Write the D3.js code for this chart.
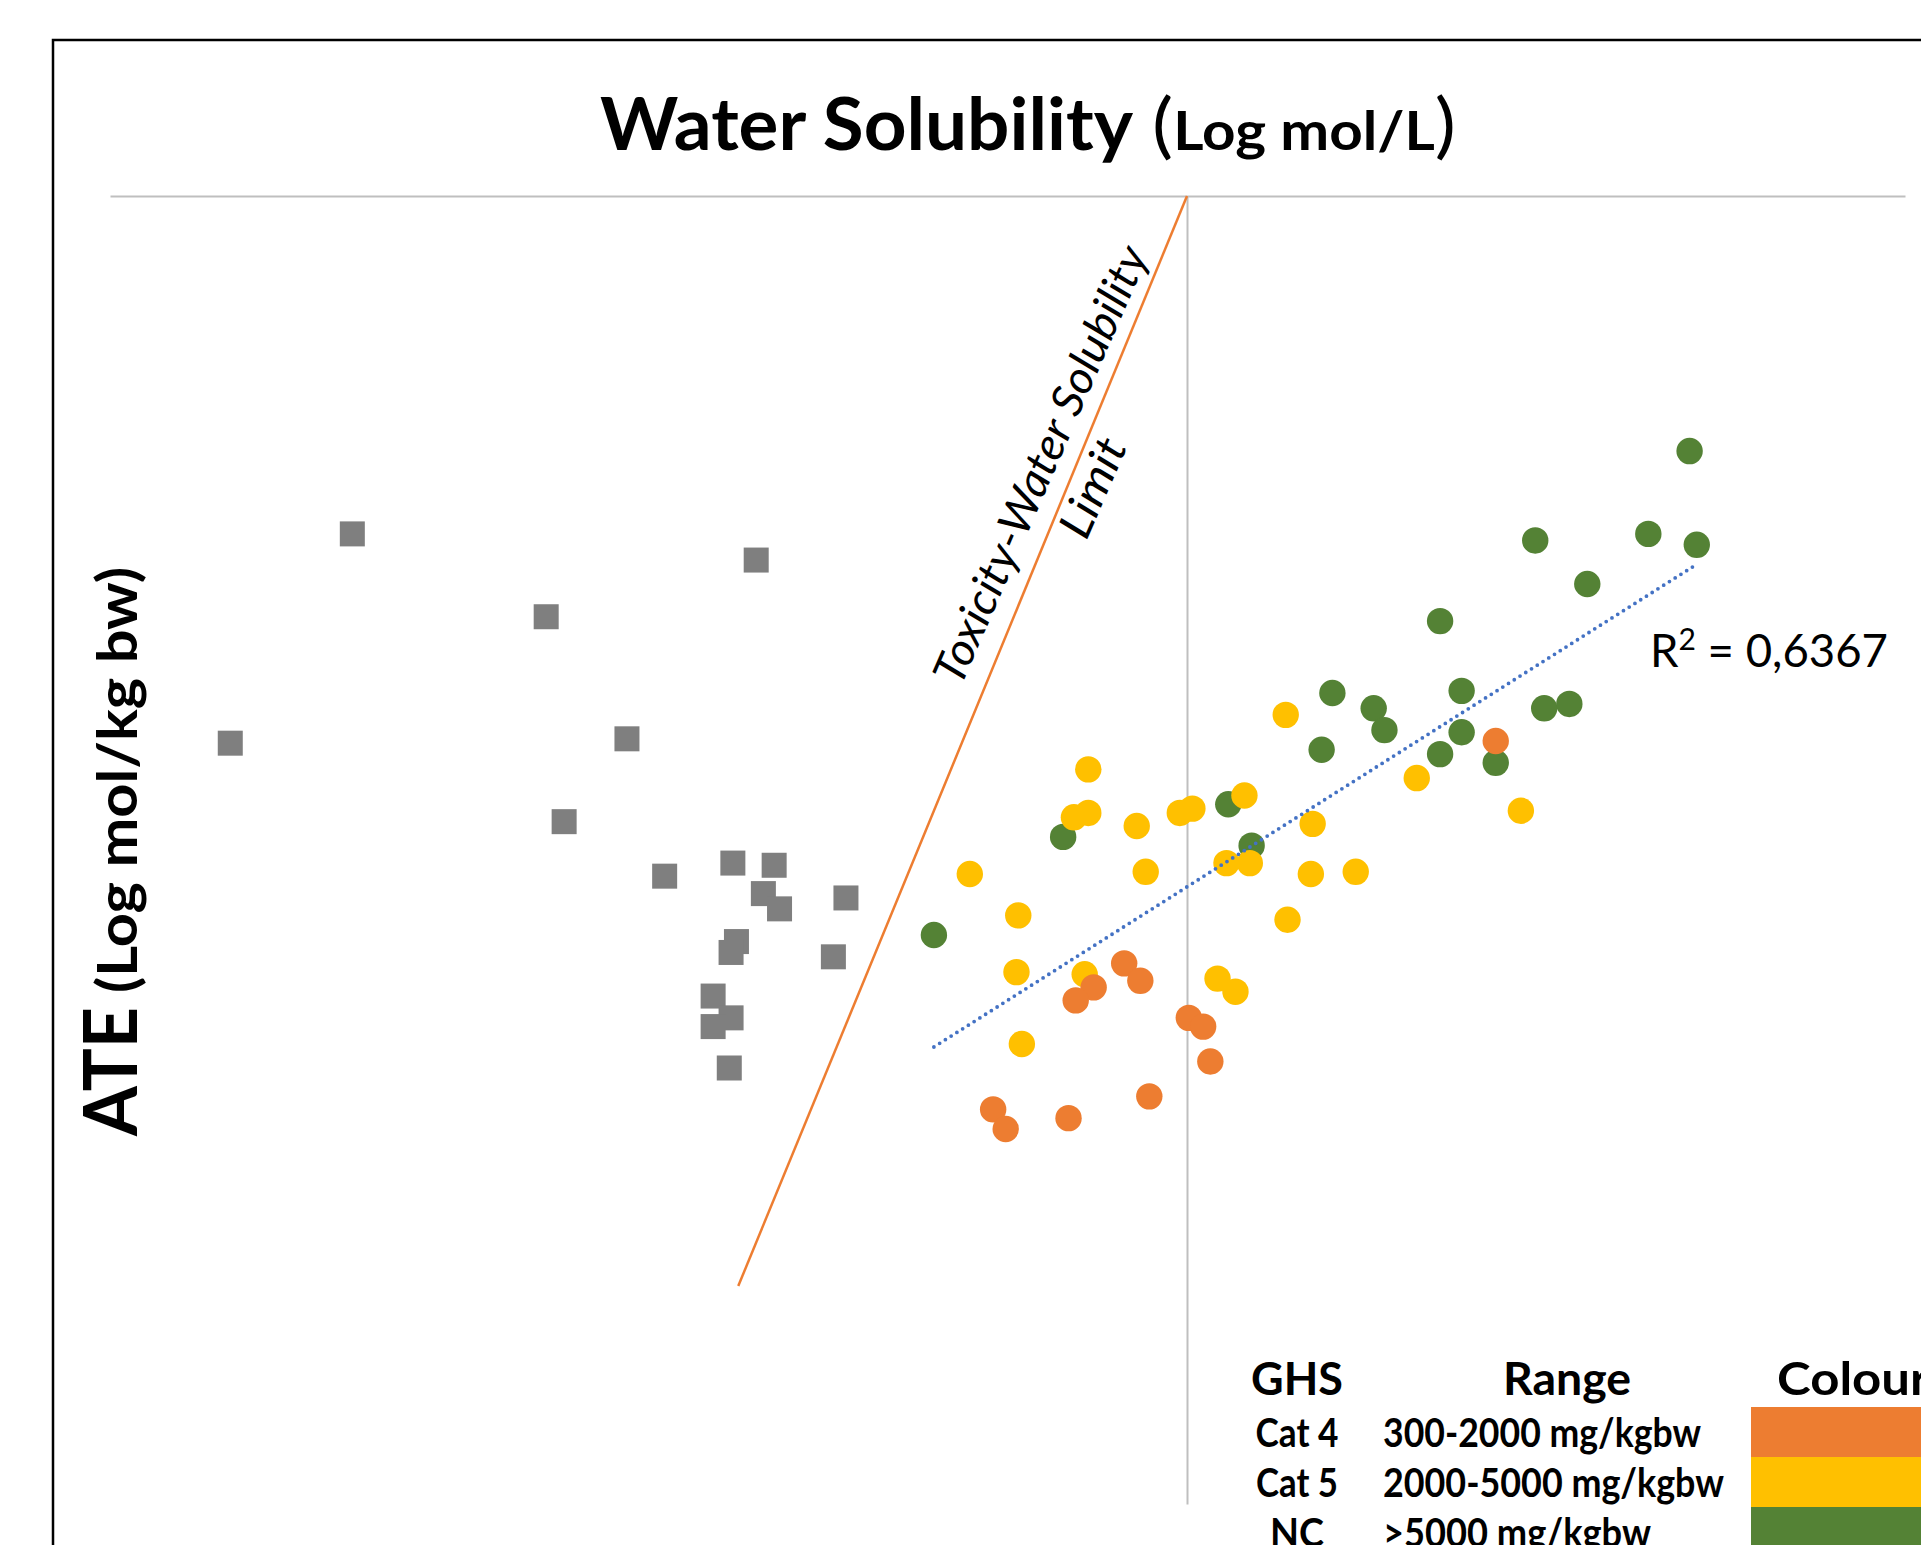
<!DOCTYPE html>
<html>
<head>
<meta charset="utf-8">
<script src="https://cdn.jsdelivr.net/npm/d3@7"></script>
<style>
    body { margin: 0; background: #fff; }
    svg { display: block; }
    text { font-family: Lato, "Open Sans", sans-serif; fill: #000; }
</style>
</head>
<body>
<div class="chart"></div>
<script>
// values: water solubility (log mol/L) vs ATE (log mol/kg bw)
const insolubleWS  = [-6.65, -4.40, -5.57, -7.33, -5.12, -5.47, -4.91, -4.53, -4.30, -4.36, -4.27, -3.90, -4.51, -4.54, -3.97, -4.64, -4.54, -4.64, -4.55];
const insolubleATE = [-1.55, -1.67, -1.93, -2.51, -2.49, -2.87, -3.12, -3.06, -3.07, -3.20, -3.27, -3.22, -3.42, -3.47, -3.49, -3.67, -3.77, -3.81, -4.00];

const ncWS  = [-3.41, -2.69, -1.77, -1.64, -1.25, -1.19, -0.96, -0.90, -0.59, -0.59, -0.47, -0.47, -0.28, -0.01, 0.13, -0.06, 0.23, 0.57, 0.84, 0.80];
const ncATE = [-3.39, -2.94, -2.79, -2.98, -2.54, -2.28, -2.35, -2.45, -1.95, -2.56, -2.27, -2.46, -2.60, -2.35, -2.33, -1.58, -1.78, -1.55, -1.60, -1.17];

const cat5WS  = [-2.55, -2.63, -2.55, -2.28, -2.04, -1.97, -1.68, -3.21, -2.23, -1.78, -1.65, -1.30, -1.31, -1.44, -2.94, -2.95, -2.57, -1.83, -1.73, -2.92, -1.45, -0.72, -0.14, -1.06];
const cat5ATE = [-2.63, -2.85, -2.83, -2.89, -2.83, -2.81, -2.75, -3.11, -3.10, -3.06, -3.06, -2.88, -3.11, -3.32, -3.30, -3.56, -3.57, -3.59, -3.65, -3.89, -2.38, -2.67, -2.82, -3.10];

const cat4WS  = [-2.35, -2.26, -2.52, -2.62, -1.99, -1.91, -1.87, -2.21, -3.08, -3.01, -2.66, -0.28];
const cat4ATE = [-3.52, -3.60, -3.63, -3.69, -3.77, -3.81, -3.97, -4.13, -4.19, -4.28, -4.23, -2.50];

// toxicity-water solubility limit (two end points)
const limitWS  = [-4.5, -2.0];
const limitATE = [-5.0, 0.0];

// linear trendline of the circles
const trendSlope = 0.521;
const trendIntercept = -2.127;
const r2Value = "0,6367";

const legendGHS = ["Cat 4", "Cat 5", "NC"];
const legendRange = ["300-2000 mg/kgbw", "2000-5000 mg/kgbw", ">5000 mg/kgbw"];
const legendColours = ["#ED7D31", "#FFC000", "#548235"];

const width = 1921, height = 1545;

let svg = d3.select(".chart")
    .append("svg")
    .attr("width", width)
    .attr("height", height);

svg.append("rect")
    .attr("width", width).attr("height", height)
    .attr("fill", "#fff");

// chart frame (runs off the right and bottom of the picture)
svg.append("rect")
    .attr("x", 53).attr("y", 40)
    .attr("width", 2000).attr("height", 1600)
    .attr("fill", "none")
    .attr("stroke", "#000")
    .attr("stroke-width", 2.5);

let x = d3.scaleLinear().domain([-8, 2]).range([110, 1905]);
let y = d3.scaleLinear().domain([-6, 0]).range([1504, 196]);

// axes without ticks: horizontal crosses at the top, vertical at -2
svg.append("g")
    .attr("class", "axis")
    .attr("transform", "translate(0," + y(0) + ")")
    .call(d3.axisTop(x).tickValues([]).tickSizeOuter(0));
svg.append("g")
    .attr("class", "axis")
    .attr("transform", "translate(" + x(-2) + ",0)")
    .call(d3.axisLeft(y).tickValues([]).tickSizeOuter(0));
svg.selectAll(".axis path")
    .attr("stroke", "#BFBFBF")
    .attr("stroke-width", 2);

function fit(sel, len) {
    return sel.attr("textLength", len).attr("lengthAdjust", "spacingAndGlyphs");
}

// title
fit(svg.append("text")
    .attr("x", 600).attr("y", 150)
    .style("font-size", "72px").style("font-weight", 700)
    .text("Water Solubility"), 533);
let sub = svg.append("text")
    .attr("x", 1152).attr("y", 150)
    .style("font-weight", 700);
sub.append("tspan").style("font-size", "72px").style("font-weight", 400).text("(");
sub.append("tspan").style("font-size", "53px").text("Log mol/L");
sub.append("tspan").style("font-size", "72px").style("font-weight", 400).text(")");
fit(sub, 304);

// y axis title
fit(svg.append("text")
    .attr("transform", "translate(137,1136) rotate(-90)")
    .style("font-size", "75px").style("font-weight", 700)
    .text("ATE"), 129);
fit(svg.append("text")
    .attr("transform", "translate(137,993) rotate(-90)")
    .style("font-size", "56px").style("font-weight", 700)
    .text("(Log mol/kg bw)"), 426);

// insoluble substances
let insoluble = insolubleWS.map((d, i) => ({ws: d, ate: insolubleATE[i]}));
svg.selectAll("rect.insoluble")
    .data(insoluble)
    .enter()
    .append("rect")
    .attr("class", "insoluble")
    .attr("x", d => x(d.ws) - 12.5)
    .attr("y", d => y(d.ate) - 12.5)
    .attr("width", 25).attr("height", 25)
    .attr("fill", "#7F7F7F");

// limit line
svg.append("line")
    .attr("x1", x(limitWS[0])).attr("y1", y(limitATE[0]))
    .attr("x2", x(limitWS[1])).attr("y2", y(limitATE[1]))
    .attr("stroke", "#ED7D31")
    .attr("stroke-width", 2.5);

let limitLabel = svg.append("g")
    .attr("transform", "translate(1041,465) rotate(-66.5)")
    .style("font-size", "45px").style("font-style", "italic");
fit(limitLabel.append("text")
    .attr("y", 15).attr("text-anchor", "middle")
    .text("Toxicity-Water Solubility"), 472);
fit(limitLabel.append("text")
    .attr("y", 72).attr("text-anchor", "middle")
    .text("Limit"), 104);

// GHS classes, drawn NC first so Cat 4 sits on top
let groups = [
    {ws: ncWS, ate: ncATE, colour: legendColours[2]},
    {ws: cat5WS, ate: cat5ATE, colour: legendColours[1]},
    {ws: cat4WS, ate: cat4ATE, colour: legendColours[0]}
];
groups.forEach(g => {
    svg.append("g")
        .selectAll("circle")
        .data(g.ws.map((d, i) => ({ws: d, ate: g.ate[i]})))
        .enter()
        .append("circle")
        .attr("cx", d => x(d.ws))
        .attr("cy", d => y(d.ate))
        .attr("r", 13.2)
        .attr("fill", g.colour);
});

// trendline across the range of the classified substances
let allWS = ncWS.concat(cat5WS, cat4WS);
let trendX = d3.extent(allWS);
svg.append("line")
    .attr("x1", x(trendX[0])).attr("y1", y(trendSlope * trendX[0] + trendIntercept))
    .attr("x2", x(trendX[1])).attr("y2", y(trendSlope * trendX[1] + trendIntercept))
    .attr("stroke", "#4472C4")
    .attr("stroke-width", 3.8)
    .attr("stroke-linecap", "round")
    .attr("stroke-dasharray", "0 6.8");

let r2 = svg.append("text")
    .attr("x", 1650).attr("y", 667)
    .style("font-size", "47px");
r2.append("tspan").text("R");
r2.append("tspan").attr("dy", -17).style("font-size", "31px").text("2");
r2.append("tspan").attr("dy", 17).text(" = " + r2Value);
fit(r2, 238);

// legend table
let legend = svg.append("g").style("font-weight", 700);
fit(legend.append("text").attr("x", 1297).attr("y", 1395)
    .attr("text-anchor", "middle").style("font-size", "46px").text("GHS"), 92);
fit(legend.append("text").attr("x", 1567).attr("y", 1395)
    .attr("text-anchor", "middle").style("font-size", "46px").text("Range"), 128);
fit(legend.append("text").attr("x", 1777).attr("y", 1395)
    .style("font-size", "46px").text("Colour"), 152);

let ghsLen = [83, 82, 54];
let rangeLen = [318, 341, 268];
legendGHS.forEach((g, i) => {
    fit(legend.append("text")
        .attr("x", 1297).attr("y", 1447 + i * 50)
        .attr("text-anchor", "middle")
        .style("font-size", "40px")
        .text(g), ghsLen[i]);
    fit(legend.append("text")
        .attr("x", 1383).attr("y", 1447 + i * 50)
        .style("font-size", "40px")
        .text(legendRange[i]), rangeLen[i]);
    legend.append("rect")
        .attr("x", 1751).attr("y", 1407 + i * 50)
        .attr("width", 300).attr("height", 50)
        .attr("fill", legendColours[i]);
});
</script>
</body>
</html>
